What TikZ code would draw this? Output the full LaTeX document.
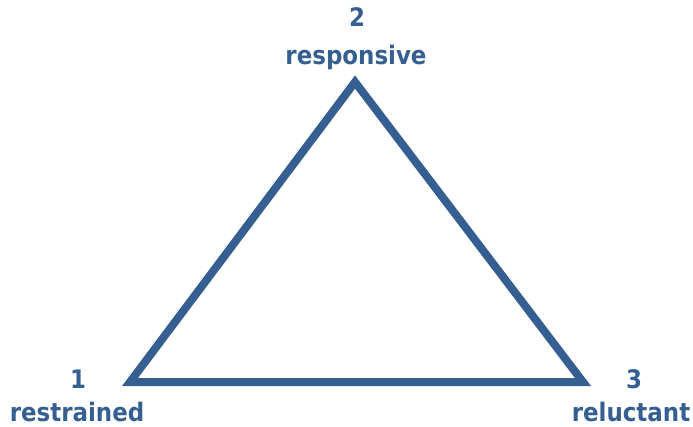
\documentclass[tikz,border=0pt]{standalone}
\usepackage{fontspec}
\setmainfont{DejaVu Sans}
\newfontfamily\labelfont{DejaVu Sans Condensed}[BoldFont=* Bold]
\definecolor{triblue}{HTML}{365F91}
\begin{document}
\begin{tikzpicture}[x=1pt,y=-1pt,
  vertexlabel/.style={inner sep=0pt,anchor=base,text=triblue,
    font=\labelfont\bfseries\fontsize{25.5}{30}\selectfont},
  edge/.style={draw=triblue,line width=8pt,line join=miter}]
  \useasboundingbox (0,0) rectangle (693,426);
  % corners of the triangle (stroke centreline)
  \coordinate (v1) at (130,382);
  \coordinate (v2) at (355,82);
  \coordinate (v3) at (583,382);
  \draw[edge] (v1) -- (v2) -- (v3) -- cycle;
  % vertex labels
  \node[vertexlabel] (n2) at (357,26) {2};
  \node[vertexlabel] (l2) at (356,64) {responsive};
  \node[vertexlabel] (n1) at (78,388) {1};
  \node[vertexlabel] (l1) at (77,421) {restrained};
  \node[vertexlabel] (n3) at (634,388) {3};
  \node[vertexlabel] (l3) at (631,421) {reluctant};
\end{tikzpicture}
\end{document}
